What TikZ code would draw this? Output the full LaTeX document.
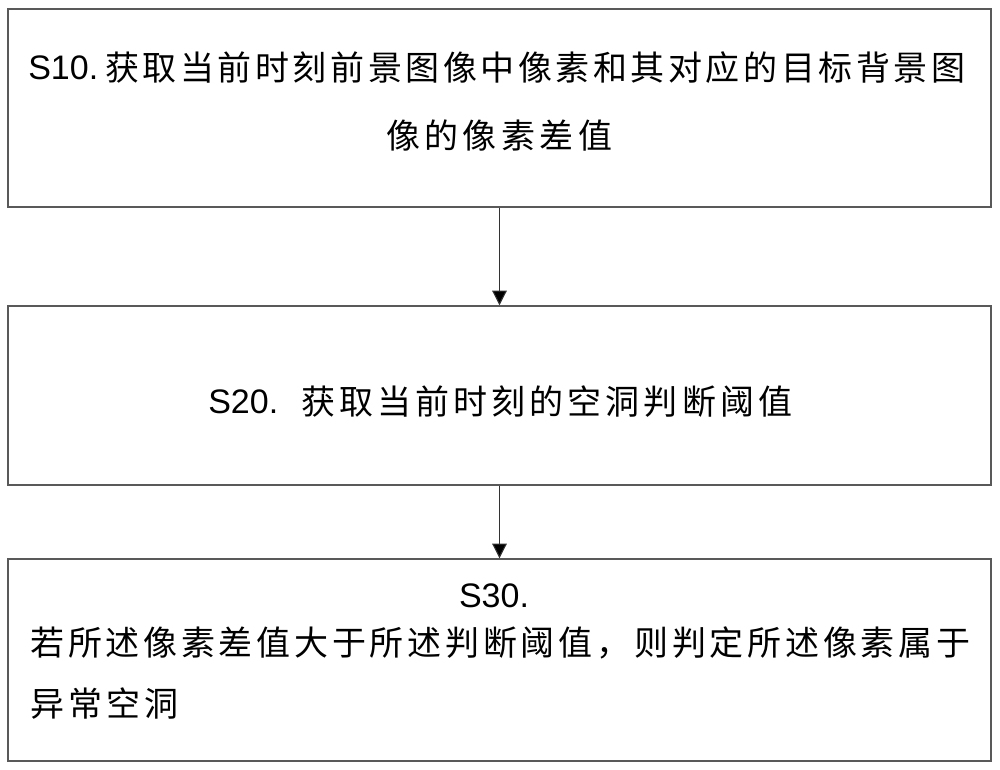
\documentclass[tikz,border=0pt]{standalone}
\usepackage{fontspec}
\setmainfont{Liberation Sans}
\newfontfamily\cjk{Noto Sans CJK SC}
\usetikzlibrary{arrows.meta}
\newcommand\spreadline[2]{{\cjk\spaceskip=0pt plus 1fil\relax\makebox[#1][s]{#2}}}
\begin{document}
\begin{tikzpicture}[x=0.75pt,y=-0.75pt,
  box/.style={draw=black!65, line width=1.1pt, minimum width=737.25pt, inner sep=0pt},
  txt/.style={inner sep=0pt, font=\fontsize{25.5pt}{30pt}\selectfont},
  arr/.style={draw=black!80, line width=0.8pt, -{Triangle[width=11pt,length=11pt,fill=black]}}]
\useasboundingbox (0,0) rectangle (1000,770);
\fill[white] (0,0) rectangle (1000,770);
\node[box, minimum height=148.5pt] (b1) at (499.5,108) {};
\node[box, minimum height=134.25pt] (b2) at (499.5,395.5) {};
\node[box, minimum height=151.5pt] (b3) at (499.5,660) {};
\draw[arr] (b1.south) -- (b2.north);
\draw[arr] (b2.south) -- (b3.north);
% box 1
\node[txt, anchor=west] (s10) at (28,68) {S10.};
\node[txt, anchor=west] (t1a) at (105,68) {\spreadline{645pt}{获 取 当 前 时 刻 前 景 图 像 中 像 素 和 其 对 应 的 目 标 背 景 图}};
\node[txt] (t1b) at (499,136) {\spreadline{169.5pt}{像 的 像 素 差 值}};
% box 2
\node[txt, anchor=west] (s20) at (208,402) {S20.};
\node[txt, anchor=west] (t2) at (301,402) {\spreadline{368.25pt}{获 取 当 前 时 刻 的 空 洞 判 断 阈 值}};
% box 3
\node[txt] (s30) at (494,596) {S30.};
\node[txt, anchor=west] (t3a) at (30,643) {\spreadline{705pt}{若 所 述 像 素 差 值 大 于 所 述 判 断 阈 值 ， 则 判 定 所 述 像 素 属 于}};
\node[txt, anchor=west] (t3b) at (30,704) {\spreadline{111pt}{异 常 空 洞}};
\end{tikzpicture}
\end{document}
